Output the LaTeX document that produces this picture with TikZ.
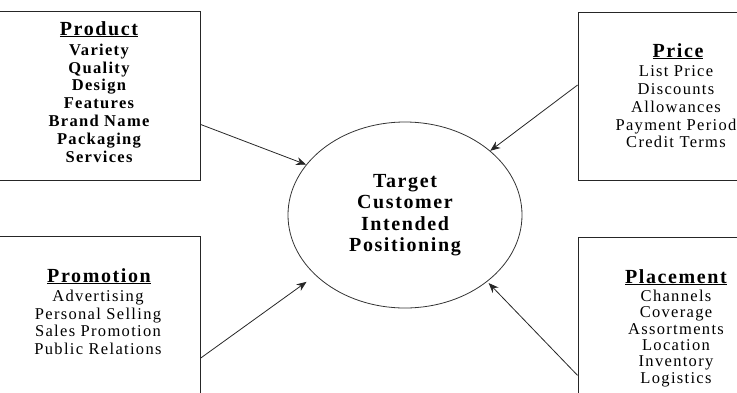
\documentclass[tikz,border=0pt]{standalone}
\usepackage{fontspec}
\setmainfont{Liberation Serif}
\newfontfamily\mixfont[LetterSpace=8]{Liberation Serif}
\usetikzlibrary{shapes.geometric, arrows.meta, calc}

\tikzset{
    % Boxes
    mixbox/.style={draw=black!85, line width=0.9pt, inner sep=0pt},
    % Texts
    headtext/.style={font=\mixfont\bfseries\fontsize{20}{22}\selectfont, inner sep=0pt, anchor=base},
    listtext/.style={font=\mixfont\fontsize{16.5}{17.8}\selectfont, align=center, inner sep=0pt, anchor=north},
    boldlist/.style={listtext, font=\mixfont\bfseries\fontsize{16.5}{17.8}\selectfont},
    % Centre
    targetnode/.style={
        ellipse, draw=black!80, line width=0.8pt, align=center,
        minimum width=234pt, minimum height=186pt,
        font=\mixfont\bfseries\fontsize{20}{21.5}\selectfont
    },
    % Arrows
    myarrow/.style={-{Stealth[length=10pt, width=8pt]}, line width=0.8pt, black!85},
}

\begin{document}
\begin{tikzpicture}[x=1pt, y=-1pt]
\useasboundingbox (0,0) rectangle (737,392);
\clip (0,0) rectangle (737,392);

% ===== Boxes =====
\node (product) [mixbox, minimum width=205pt, minimum height=169pt] at (97.5,95.5) {};
\node (price) [mixbox, minimum width=167pt, minimum height=168pt] at (661.5,96) {};
\node (promotion) [mixbox, minimum width=205pt, minimum height=164pt] at (97.5,318) {};
\node (placement) [mixbox, minimum width=167pt, minimum height=163pt] at (661.5,318.5) {};

% ===== Product =====
\node (producthead) [headtext] at (99,35) {\underline{Product}};
\node (productlist) [boldlist] at (99,43.6) {
    Variety\\Quality\\Design\\Features\\Brand Name\\Packaging\\Services
};

% ===== Price =====
\node (pricehead) [headtext] at (678,57) {\underline{Price}};
\node (pricelist) [listtext] at (676,65.6) {
    List Price\\Discounts\\Allowances\\Payment Period\\Credit Terms
};

% ===== Promotion =====
\node (promotionhead) [headtext] at (99,282) {\underline{Promotion}};
\node (promotionlist) [listtext] at (98,289.6) {
    Advertising\\Personal Selling\\Sales Promotion\\Public Relations
};

% ===== Placement =====
\node (placementhead) [headtext] at (676,283) {\underline{Placement}};
\node (placementlist) [listtext, font=\mixfont\fontsize{16.5}{16.4}\selectfont] at (676,289.6) {
    Channels\\Coverage\\Assortments\\Location\\Inventory\\Logistics
};

% ===== Target =====
\node (target) [targetnode] at (405,215) {
    Target\\Customer\\Intended\\Positioning
};

% ===== Arrows =====
\draw[myarrow] ($(product.north east)!0.67!(product.south east)$) -- (target.153);
\draw[myarrow] ($(price.north west)!0.435!(price.south west)$) -- (target.37);
\draw[myarrow, shorten >=11pt] ($(promotion.north east)!0.744!(promotion.south east)$) -- (target.214);
\draw[myarrow, shorten >=2pt] ($(placement.north west)!0.847!(placement.south west)$) -- (target.321);

\end{tikzpicture}
\end{document}
